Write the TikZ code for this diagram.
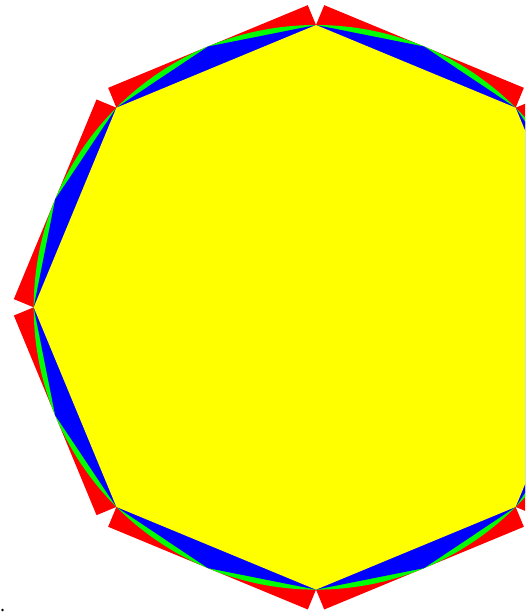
\documentclass[tikz,border=0pt]{standalone}
\usepackage{xcolor}
\usepackage{tikz}
\usetikzlibrary{calc}
\definecolor{rimred}{HTML}{FF0000}
\definecolor{arcgreen}{HTML}{00FF00}
\definecolor{wedgeblue}{HTML}{0000FF}
\definecolor{coreyellow}{HTML}{FFFF00}

\begin{document}
\begin{tikzpicture}[
    rim/.style={fill=rimred},
    arcfill/.style={fill=arcgreen},
    wedge/.style={fill=wedgeblue},
    core/.style={fill=coreyellow}
]
    % === frame ===
    \useasboundingbox (-5.597,-5.414) rectangle (3.702,5.443);
    \clip (-5.597,-5.414) rectangle (3.702,5.443);

    % === octagon corners and 16-gon corners ===
    \foreach \k in {0,...,7} {
        \coordinate (v\k) at (90+45*\k:5);
        \coordinate (m\k) at (112.5+45*\k:5);
    }
    \coordinate (v8) at (v0);

    % --- red strips, one per side, as high as the arc ---
    \foreach \k [evaluate=\k as \n using int(\k+1)] in {0,...,7} {
        \fill[rim] (v\k) -- (v\n) -- ($(v\n)+(112.5+45*\k:0.3806)$)
            -- ($(v\k)+(112.5+45*\k:0.3806)$) -- cycle;
    }

    % --- green circle ---
    \fill[arcfill] (0,0) circle (5);

    % --- blue 16-gon ---
    \fill[wedge] (v0) -- (m0) -- (v1) -- (m1) -- (v2) -- (m2) -- (v3) -- (m3)
        -- (v4) -- (m4) -- (v5) -- (m5) -- (v6) -- (m6) -- (v7) -- (m7) -- cycle;

    % --- yellow octagon ---
    \fill[core] (v0) -- (v1) -- (v2) -- (v3) -- (v4) -- (v5) -- (v6) -- (v7) -- cycle;

    % --- dot ---
    \fill (-5.553,-5.361) circle (0.025);
\end{tikzpicture}
\end{document}
